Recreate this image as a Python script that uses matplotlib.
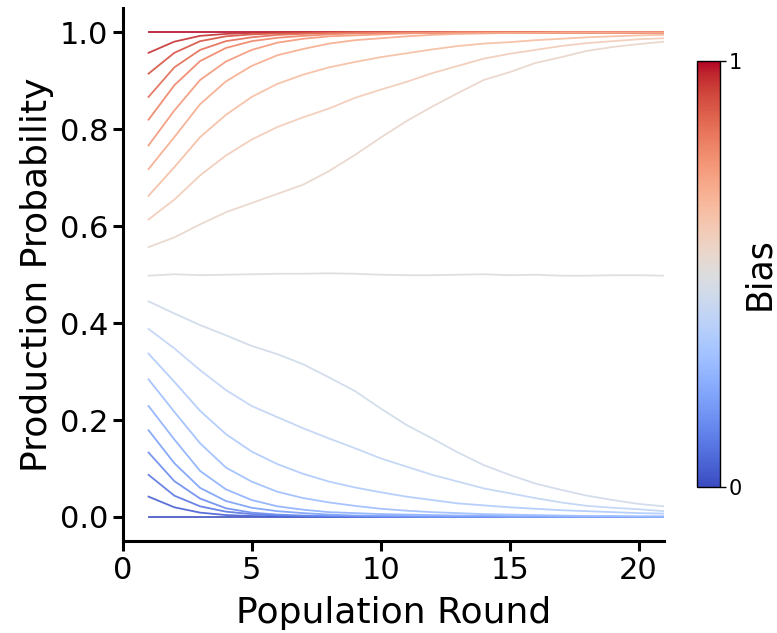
import numpy as np
import matplotlib
matplotlib.use("Agg")
import matplotlib.pyplot as plt
from matplotlib import cm
from matplotlib.colors import Normalize

rounds = list(range(1, 22))
biases = [0.0, 0.05, 0.1, 0.15, 0.2, 0.25, 0.3, 0.35, 0.4, 0.45, 0.5,
          0.55, 0.6, 0.65, 0.7, 0.75, 0.8, 0.85, 0.9, 0.95, 1.0]

p_000 = [0.0] * 21
p_005 = [0.042, 0.020, 0.009, 0.004, 0.002, 0.001, 0.001, 0.0, 0.0, 0.0, 0.0,
         0.0, 0.0, 0.0, 0.0, 0.0, 0.0, 0.0, 0.0, 0.0, 0.0]
p_010 = [0.087, 0.044, 0.022, 0.011, 0.006, 0.003, 0.002, 0.001, 0.001, 0.0, 0.0,
         0.0, 0.0, 0.0, 0.0, 0.0, 0.0, 0.0, 0.0, 0.0, 0.0]
p_015 = [0.133, 0.074, 0.038, 0.018, 0.009, 0.005, 0.003, 0.002, 0.001, 0.001, 0.0,
         0.0, 0.0, 0.0, 0.0, 0.0, 0.0, 0.0, 0.0, 0.0, 0.0]
p_020 = [0.179, 0.111, 0.060, 0.033, 0.019, 0.012, 0.008, 0.005, 0.003, 0.002, 0.002,
         0.001, 0.001, 0.001, 0.0, 0.0, 0.0, 0.0, 0.0, 0.0, 0.0]
p_025 = [0.229, 0.160, 0.095, 0.057, 0.035, 0.022, 0.015, 0.010, 0.008, 0.006, 0.005,
         0.004, 0.003, 0.003, 0.002, 0.002, 0.001, 0.001, 0.001, 0.001, 0.001]
p_030 = [0.284, 0.217, 0.152, 0.102, 0.073, 0.052, 0.039, 0.030, 0.023, 0.017, 0.013,
         0.010, 0.008, 0.006, 0.005, 0.004, 0.003, 0.002, 0.002, 0.001, 0.001]
p_035 = [0.337, 0.279, 0.219, 0.171, 0.135, 0.109, 0.089, 0.073, 0.061, 0.051, 0.042,
         0.035, 0.028, 0.024, 0.020, 0.017, 0.014, 0.012, 0.010, 0.008, 0.007]
p_040 = [0.388, 0.348, 0.303, 0.262, 0.229, 0.206, 0.183, 0.162, 0.142, 0.121, 0.104,
         0.087, 0.073, 0.059, 0.049, 0.039, 0.030, 0.023, 0.019, 0.016, 0.012]
p_045 = [0.445, 0.420, 0.396, 0.375, 0.353, 0.336, 0.315, 0.288, 0.260, 0.224, 0.190,
         0.162, 0.133, 0.107, 0.087, 0.069, 0.056, 0.044, 0.035, 0.027, 0.022]
p_050 = [0.498, 0.501, 0.499, 0.500, 0.501, 0.502, 0.502, 0.503, 0.502, 0.500, 0.499,
         0.499, 0.500, 0.501, 0.499, 0.500, 0.498, 0.498, 0.499, 0.499, 0.498]
p_055 = [0.557, 0.577, 0.604, 0.629, 0.648, 0.667, 0.686, 0.714, 0.747, 0.783, 0.817,
         0.847, 0.875, 0.902, 0.918, 0.937, 0.949, 0.962, 0.970, 0.976, 0.981]
p_060 = [0.614, 0.655, 0.705, 0.746, 0.779, 0.805, 0.825, 0.843, 0.865, 0.882, 0.898,
         0.916, 0.931, 0.946, 0.956, 0.964, 0.972, 0.978, 0.982, 0.986, 0.988]
p_065 = [0.663, 0.722, 0.784, 0.830, 0.867, 0.894, 0.913, 0.928, 0.939, 0.949, 0.957,
         0.965, 0.972, 0.977, 0.980, 0.984, 0.987, 0.990, 0.992, 0.994, 0.995]
p_070 = [0.718, 0.784, 0.852, 0.899, 0.931, 0.953, 0.966, 0.977, 0.984, 0.988, 0.992,
         0.995, 0.997, 0.998, 0.999, 0.999, 1.0, 1.0, 1.0, 1.0, 1.0]
p_075 = [0.767, 0.839, 0.902, 0.940, 0.964, 0.979, 0.987, 0.992, 0.994, 0.996, 0.998,
         0.999, 1.0, 1.0, 1.0, 1.0, 1.0, 1.0, 1.0, 1.0, 1.0]
p_080 = [0.820, 0.891, 0.941, 0.968, 0.982, 0.989, 0.993, 0.996, 0.998, 0.999, 1.0,
         1.0, 1.0, 1.0, 1.0, 1.0, 1.0, 1.0, 1.0, 1.0, 1.0]
p_085 = [0.867, 0.928, 0.964, 0.982, 0.990, 0.995, 0.997, 0.999, 1.0, 1.0, 1.0,
         1.0, 1.0, 1.0, 1.0, 1.0, 1.0, 1.0, 1.0, 1.0, 1.0]
p_090 = [0.915, 0.958, 0.982, 0.992, 0.996, 0.998, 0.999, 1.0, 1.0, 1.0, 1.0,
         1.0, 1.0, 1.0, 1.0, 1.0, 1.0, 1.0, 1.0, 1.0, 1.0]
p_095 = [0.958, 0.981, 0.993, 0.997, 0.999, 1.0, 1.0, 1.0, 1.0, 1.0, 1.0,
         1.0, 1.0, 1.0, 1.0, 1.0, 1.0, 1.0, 1.0, 1.0, 1.0]
p_100 = [1.0] * 21

series = [p_000, p_005, p_010, p_015, p_020, p_025, p_030, p_035, p_040, p_045, p_050,
          p_055, p_060, p_065, p_070, p_075, p_080, p_085, p_090, p_095, p_100]

fig = plt.figure(figsize=(7.77, 6.33), dpi=100)
ax = fig.add_axes([0.158, 0.145, 0.697, 0.842])
cmap = plt.get_cmap("coolwarm")
norm = Normalize(0, 1)
for b, ys in zip(biases, series):
    # lines closer to the centre are drawn above the extreme ones
    z = 2 + (0.5 - abs(b - 0.5))
    ax.plot(rounds, ys, color=cmap(norm(b)), lw=1.3, alpha=0.9, zorder=z)

ax.set_xlim(0, 21)
ax.set_ylim(-0.05, 1.05)
ax.set_xticks([0, 5, 10, 15, 20])
ax.set_yticks([0.0, 0.2, 0.4, 0.6, 0.8, 1.0])
ax.set_yticklabels(["0.0", "0.2", "0.4", "0.6", "0.8", "1.0"])
for s in ["top", "right"]:
    ax.spines[s].set_visible(False)
for s in ["left", "bottom"]:
    ax.spines[s].set_linewidth(2.2)
    ax.spines[s].set_zorder(5)
ax.tick_params(axis="both", labelsize=22, width=2.2, length=7)
ax.set_xlabel("Population Round", fontsize=26, labelpad=8)
ax.set_ylabel("Production Probability", fontsize=26, labelpad=4)

cax = fig.add_axes([0.897, 0.231, 0.030, 0.673])
sm = cm.ScalarMappable(norm=norm, cmap=cmap)
cb = fig.colorbar(sm, cax=cax, ticks=[0, 1])
cb.ax.set_yticklabels(["0", "1"])
cb.ax.tick_params(labelsize=15, width=1, length=4, pad=2)
cb.outline.set_linewidth(1)
cb.set_label("Bias", fontsize=25, labelpad=0)

fig.savefig("out.png", dpi=100)
